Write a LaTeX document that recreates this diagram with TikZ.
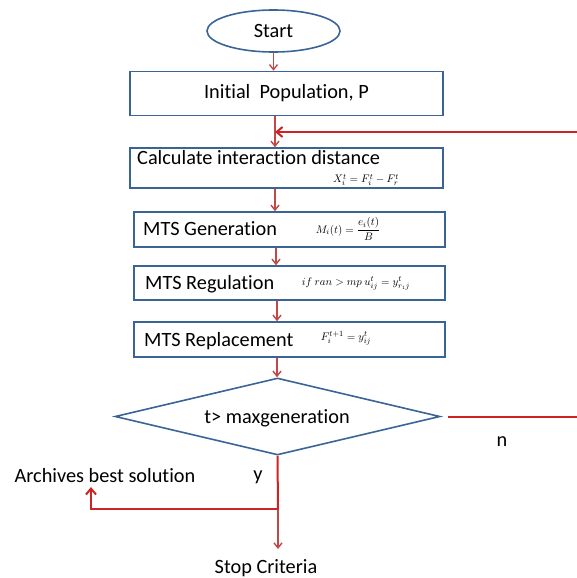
\documentclass[tikz,border=0pt]{standalone}
\usepackage{fontspec}
\setmainfont{Carlito}[Ligatures=NoCommon]
\usetikzlibrary{shapes.geometric,arrows.meta}
\definecolor{boxblue}{RGB}{58,100,150}
\definecolor{arrred}{RGB}{192,72,70}
\definecolor{loopred}{RGB}{205,35,35}
\begin{document}
\begin{tikzpicture}[x=1pt,y=-1pt,
  every node/.style={font=\fontsize{20.3}{23}\selectfont, text=black},
  procbox/.style={draw=boxblue, line width=1.6pt, fill=white, rectangle, inner sep=0pt},
  formula/.style={font=\fontsize{11}{12}\selectfont, inner sep=0pt},
  flow/.style={draw=arrred, line width=1.4pt, -{Straight Barb[length=5pt,width=8pt,line width=1.4pt]}},
  loopline/.style={draw=loopred, line width=2pt},
  lbl/.style={inner sep=0pt}]
\useasboundingbox (0,0) rectangle (577,578);

% nodes
\node[draw=boxblue, line width=1.6pt, ellipse, minimum width=133pt, minimum height=42pt, inner sep=0pt] (start) at (273.5,31) {Start};
\node[procbox, minimum width=313pt, minimum height=44pt] (init) at (286.5,93.5) {Initial\ \ Population, P};
\node[procbox, minimum width=313pt, minimum height=40pt] (calc) at (286.5,168) {};
\node[procbox, minimum width=311pt, minimum height=35pt] (gen) at (289.5,229.5) {};
\node[procbox, minimum width=311pt, minimum height=34pt] (reg) at (289.5,283) {};
\node[procbox, minimum width=311pt, minimum height=35pt] (rep) at (289.5,339.5) {};
\node[draw=boxblue, line width=1.6pt, diamond, aspect=4.2, minimum width=325pt, minimum height=77pt, inner sep=0pt] (dec) at (277.5,416.5) {};

% texts inside boxes
\node[lbl, anchor=west] (calct) at (137,158) {Calculate interaction distance};
\node[formula] (calcf) at (366,180) {$X_i^t = F_i^t - F_r^t$};
\node[lbl, anchor=west] (gent) at (143,229) {MTS Generation};
\node[formula] (genf) at (348,229) {$M_i(t) = \displaystyle\frac{e_i(t)}{B}$};
\node[lbl, anchor=west] (regt) at (145,284) {MTS Regulation};
\node[formula] (regf) at (356,283) {$if\ ran > mp\ u_{ij}^{t} = y_{r_1 j}^{t}$};
\node[lbl, anchor=west] (rept) at (144,341) {MTS Replacement};
\node[formula] (repf) at (346,338) {$F_i^{t+1} = y_{ij}^{t}$};
\node[lbl] (dect) at (277,418) {t> maxgeneration};

% outside labels
\node[lbl] (arch) at (105,476) {Archives best solution};
\node[lbl] (ylab) at (258,477) {y};
\node[lbl] (nlab) at (502,442) {n};
\node[lbl] (stop) at (266,568) {Stop Criteria};

% coordinates
\coordinate (merge) at (275,132);
\coordinate (loopR) at (600,416.5);
\coordinate (loopT) at (600,132);
\coordinate (split) at (278,509);
\coordinate (archC) at (91,509);
\coordinate (archT) at (91,487);
\coordinate (stopT) at (278,549);
\coordinate (c2) at (276,0);
\coordinate (c3) at (277,0);

% connectors
\draw[flow] (start.south) -- (start.south |- init.north);
\draw[flow] (init.south -| merge) -- (calc.north -| merge);
\draw[loopline, -{Straight Barb[length=6pt,width=10pt,line width=2pt]}] (dec.east) ++(7,0) -- (loopR) -- (loopT) -- (merge);
\draw[flow] (calc.south -| merge) -- (gen.north -| merge);
\draw[flow] (gen.south -| c2) -- (reg.north -| c2);
\draw[flow] (reg.south -| c3) -- (rep.north -| c3);
\draw[flow] (rep.south -| c3) -- (dec.north -| c3);
\draw[loopline] (dec.south) -- (split);
\draw[flow] (split) -- (stopT);
\draw[loopline, -{Straight Barb[length=6pt,width=10pt,line width=2pt]}] (split) -- (archC) -- (archT);
\end{tikzpicture}
\end{document}
